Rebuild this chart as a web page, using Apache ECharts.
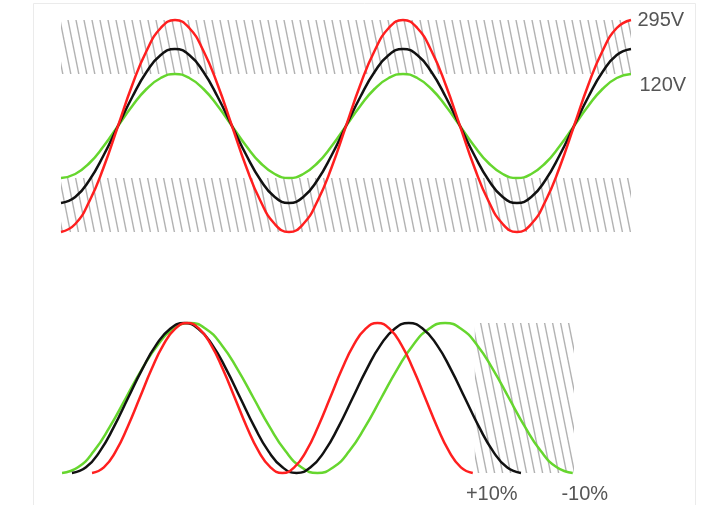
<!DOCTYPE html>
<html>
<head>
<meta charset="utf-8">
<script src="https://cdn.jsdelivr.net/npm/echarts@6/dist/echarts.min.js"></script>
<style>
html,body{margin:0;padding:0;background:#fff;}
#c{width:720px;height:505px;}
</style>
</head>
<body>
<div id="c"></div>
<script>
// ---- Top chart: mains voltage waveforms (time in ms, amplitude units) ----
const topTime = [0,1.25,2.5,3.75,5,6.25,7.5,8.75,10,11.25,12.5,13.75,15,16.25,17.5,18.75,
  20,21.25,22.5,23.75,25,26.25,27.5,28.75,30,31.25,32.5,33.75,35,36.25,37.5,38.75,
  40,41.25,42.5,43.75,45,46.25,47.5,48.75,50];
const topRed = [-106,-98,-75,-41,0,41,75,98,106,98,75,41,0,-41,-75,-98,
  -106,-98,-75,-41,0,41,75,98,106,98,75,41,0,-41,-75,-98,
  -106,-98,-75,-41,0,41,75,98,106];
const topBlack = [-77,-71,-54,-29,0,29,54,71,77,71,54,29,0,-29,-54,-71,
  -77,-71,-54,-29,0,29,54,71,77,71,54,29,0,-29,-54,-71,
  -77,-71,-54,-29,0,29,54,71,77];
const topGreen = [-52,-48,-37,-20,0,20,37,48,52,48,37,20,0,-20,-37,-48,
  -52,-48,-37,-20,0,20,37,48,52,48,37,20,0,-20,-37,-48,
  -52,-48,-37,-20,0,20,37,48,52];
const topBandUpper = [52, 106];
const topBandLower = [-106, -52];
const topLabels = ['295V', '120V'];

// ---- Bottom chart: frequency deviation pulses (time in ms, normalised level) ----
const pulseLevel = [0,0.038,0.146,0.309,0.5,0.691,0.854,0.962,1,0.962,0.854,0.691,0.5,0.309,0.146,0.038,
  0,0.038,0.146,0.309,0.5,0.691,0.854,0.962,1,0.962,0.854,0.691,0.5,0.309,0.146,0.038,0];
const botGreenTime = [0.09,1.49,2.89,4.29,5.69,7.09,8.49,9.89,11.29,12.69,14.09,15.49,16.89,18.29,19.69,21.09,
  22.49,23.89,25.29,26.69,28.09,29.49,30.89,32.29,33.69,35.09,36.49,37.89,39.29,40.69,42.09,43.49,44.89];
const botBlackTime = [0.96,2.19,3.42,4.65,5.88,7.12,8.35,9.58,10.81,12.04,13.27,14.50,15.73,16.96,18.19,19.43,
  20.66,21.89,23.12,24.35,25.58,26.81,28.04,29.27,30.50,31.74,32.97,34.20,35.43,36.66,37.89,39.12,40.35];
const botRedTime = [2.72,3.76,4.81,5.85,6.90,7.94,8.98,10.03,11.07,12.11,13.16,14.20,15.25,16.29,17.33,18.38,
  19.42,20.46,21.51,22.55,23.60,24.64,25.68,26.73,27.77,28.81,29.86,30.90,31.95,32.99,34.03,35.08,36.12];
const botBand = [36.3, 45];
const botLabels = ['+10%', '-10%'];

const RED = '#ff1f1f', BLACK = '#111111', GREEN = '#66d62e';
const TEXT = '#555555', FONT = '"Liberation Sans", Arial, sans-serif';

function hatch(w, h) {
  const c = document.createElement('canvas');
  c.width = w; c.height = h;
  const g = c.getContext('2d');
  g.strokeStyle = 'rgba(125,125,125,0.6)';
  g.lineWidth = 1.4;
  for (let x0 = -w; x0 <= w; x0 += w) {
    g.beginPath(); g.moveTo(x0, 0); g.lineTo(x0 + w, h); g.stroke();
  }
  return c;
}
const hatchFill = { image: hatch(8, 40), repeat: 'repeat' };

function pairs(xs, ys) { return xs.map((x, i) => [x, ys[i]]); }
function line(name, xs, ys, color, gi) {
  return {
    name: name, type: 'line', xAxisIndex: gi, yAxisIndex: gi,
    data: pairs(xs, ys), smooth: true, showSymbol: false, symbol: 'none',
    clip: false, z: 3,
    lineStyle: { color: color, width: 2.5 }
  };
}
function tag(coord, text, pos, offset) {
  return {
    coord: coord, symbol: 'rect', symbolSize: 1,
    itemStyle: { color: 'rgba(0,0,0,0)' },
    label: { show: true, position: pos, distance: 6, offset: offset, formatter: text,
      color: TEXT, fontSize: 20, fontFamily: FONT }
  };
}

const tN = topTime.length - 1, bN = pulseLevel.length - 1;

const option = {
  animation: false,
  backgroundColor: '#ffffff',
  grid: [
    { left: 61, width: 570, top: 16, height: 220 },
    { left: 61, width: 513, top: 323, height: 150 }
  ],
  xAxis: [
    { type: 'value', gridIndex: 0, min: 0, max: 50, show: false },
    { type: 'value', gridIndex: 1, min: 0, max: 45, show: false }
  ],
  yAxis: [
    { type: 'value', gridIndex: 0, min: -110, max: 110, show: false },
    { type: 'value', gridIndex: 1, min: 0, max: 1, show: false }
  ],
  graphic: [{
    type: 'rect', z: -10, silent: true,
    shape: { x: 33.5, y: 3.5, width: 662, height: 520 },
    style: { fill: 'none', stroke: '#ebebeb', lineWidth: 1 }
  }],
  series: [
    {
      type: 'line', xAxisIndex: 0, yAxisIndex: 0, data: [], z: 1, silent: true,
      markArea: {
        silent: true,
        itemStyle: { color: hatchFill },
        data: [
          [{ coord: [topTime[0], topBandUpper[0]] }, { coord: [topTime[tN], topBandUpper[1]] }],
          [{ coord: [topTime[0], topBandLower[0]] }, { coord: [topTime[tN], topBandLower[1]] }]
        ]
      }
    },
    {
      type: 'line', xAxisIndex: 1, yAxisIndex: 1, data: [], z: 1, silent: true,
      markArea: {
        silent: true,
        itemStyle: { color: hatchFill },
        data: [
          [{ coord: [botBand[0], 0] }, { coord: [botBand[1], 1] }]
        ]
      }
    },
    Object.assign(line('topGreen', topTime, topGreen, GREEN, 0), {
      markPoint: { silent: true, data: [tag([topTime[tN], topGreen[tN]], topLabels[1], 'right', [2, 11])] }
    }),
    line('topBlack', topTime, topBlack, BLACK, 0),
    Object.assign(line('topRed', topTime, topRed, RED, 0), {
      markPoint: { silent: true, data: [tag([topTime[tN], topRed[tN]], topLabels[0], 'right', [0, 0])] }
    }),
    Object.assign(line('botGreen', botGreenTime, pulseLevel, GREEN, 1), {
      markPoint: { silent: true, data: [tag([botGreenTime[bN], pulseLevel[bN]], botLabels[1], 'inside', [12, 21])] }
    }),
    line('botBlack', botBlackTime, pulseLevel, BLACK, 1),
    Object.assign(line('botRed', botRedTime, pulseLevel, RED, 1), {
      markPoint: { silent: true, data: [tag([botRedTime[bN], pulseLevel[bN]], botLabels[0], 'inside', [19, 21])] }
    })
  ]
};

const chart = echarts.init(document.getElementById('c'), null, { renderer: 'canvas' });
chart.setOption(option);
</script>
</body>
</html>
